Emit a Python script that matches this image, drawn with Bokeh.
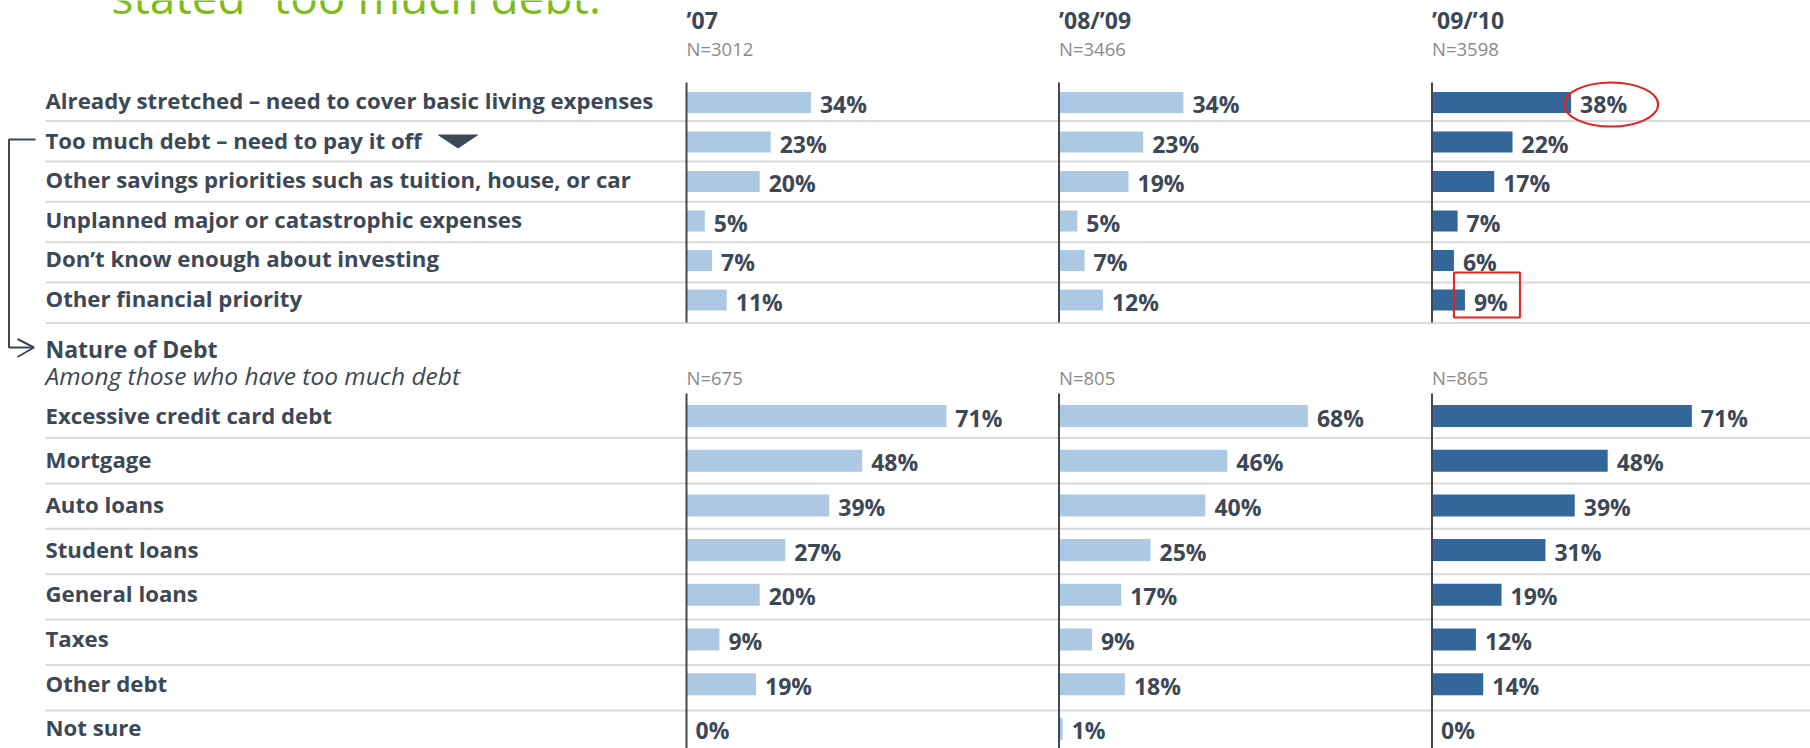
import numpy as np
from bokeh.plotting import figure
from bokeh.models import Range1d
from bokeh.core.properties import value
from bokeh.embed import file_html
from bokeh.resources import INLINE

# ---------------- data ----------------
title_text = "stated “too much debt.”"
periods = ["’07", "’08/’09", "’09/’10"]
n_top = ["N=3012", "N=3466", "N=3598"]
n_bottom = ["N=675", "N=805", "N=865"]

reasons = [
    "Already stretched – need to cover basic living expenses",
    "Too much debt – need to pay it off",
    "Other savings priorities such as tuition, house, or car",
    "Unplanned major or catastrophic expenses",
    "Don’t know enough about investing",
    "Other financial priority",
]
reasons_07 = [34, 23, 20, 5, 7, 11]
reasons_0809 = [34, 23, 19, 5, 7, 12]
reasons_0910 = [38, 22, 17, 7, 6, 9]

section_title = "Nature of Debt"
section_sub = "Among those who have too much debt"
debt_types = [
    "Excessive credit card debt",
    "Mortgage",
    "Auto loans",
    "Student loans",
    "General loans",
    "Taxes",
    "Other debt",
    "Not sure",
]
debt_07 = [71, 48, 39, 27, 20, 9, 19, 0]
debt_0809 = [68, 46, 40, 25, 17, 9, 18, 1]
debt_0910 = [71, 48, 39, 31, 19, 12, 14, 0]

# ---------------- layout / style ----------------
W, H = 1810, 748
FONT = value("Open Sans")
DARK = "#3d4857"
LIGHT_BAR = "#adc8e3"
DARK_BAR = "#346799"
SEP = "#dadada"
GRAY = "#8a8a8a"
RED = "#e8201e"

col_x = np.array([686.0, 1058.5, 1431.5])
k = 3.66                      # pixels per percentage point
label_x = 45
top_y0, top_pitch = 102.0, 39.5
top_sep0, top_sep_pitch = 120.5, 40.4
bot_y0, bot_pitch = 415.5, 44.7
bot_sep0, bot_sep_pitch = 437.5, 45.4

top_vals = [reasons_07, reasons_0809, reasons_0910]
bot_vals = [debt_07, debt_0809, debt_0910]
bar_colors = [LIGHT_BAR, LIGHT_BAR, DARK_BAR]

top_y = top_y0 + top_pitch * np.arange(len(reasons))
bot_y = bot_y0 + bot_pitch * np.arange(len(debt_types))
top_sep = top_sep0 + top_sep_pitch * np.arange(len(reasons))
bot_sep = bot_sep0 + bot_sep_pitch * np.arange(len(debt_types) - 1)

p = figure(width=W, height=H, x_range=Range1d(0, W), y_range=Range1d(H, 0),
           output_backend="svg", toolbar_location=None, min_border=0,
           x_axis_type=None, y_axis_type=None)
p.grid.visible = False
p.outline_line_color = None
p.background_fill_color = "white"
p.border_fill_color = "white"

# title (cut off at the top, as in the slide)
p.text(x=[111], y=[-4.5], text=[title_text], text_font=FONT, text_font_size="46px",
       text_color="#7cbd14", text_baseline="middle", text_align="left")

# separators
seps = np.concatenate([top_sep, bot_sep])
p.segment(x0=label_x, x1=W, y0=seps, y1=seps, line_color=SEP, line_width=2)

# column headers
p.text(x=col_x, y=[19] * 3, text=periods, text_font=FONT, text_font_size="23px",
       text_font_style="bold", text_color=DARK, text_baseline="middle")
p.text(x=col_x, y=[48] * 3, text=n_top, text_font=FONT, text_font_size="18.5px",
       text_color=GRAY, text_baseline="middle")
p.text(x=col_x, y=[377] * 3, text=n_bottom, text_font=FONT, text_font_size="18.5px",
       text_color=GRAY, text_baseline="middle")

# row labels
p.text(x=[label_x] * len(reasons), y=top_y - 2, text=reasons, text_font=FONT,
       text_font_size="22.2px", text_font_style="bold", text_color=DARK, text_baseline="middle")
p.text(x=[label_x] * len(debt_types), y=bot_y - 1, text=debt_types, text_font=FONT,
       text_font_size="22.2px", text_font_style="bold", text_color=DARK, text_baseline="middle")
sec_y = 348.0
p.text(x=[label_x], y=[sec_y], text=[section_title], text_font=FONT, text_font_size="23px",
       text_font_style="bold", text_color=DARK, text_baseline="middle")
p.text(x=[label_x], y=[sec_y + 27], text=[section_sub], text_font=FONT, text_font_size="24.5px",
       text_font_style="italic", text_color=DARK, text_baseline="middle")

# bars + value labels
for j in range(3):
    for ys, vals, h in ((top_y, top_vals[j], 21), (bot_y, bot_vals[j], 22)):
        v = np.array(vals, dtype=float)
        right = col_x[j] + v * k
        p.hbar(y=ys, left=col_x[j], right=right, height=h,
               fill_color=bar_colors[j], line_color=None)
        p.text(x=right + 9, y=ys + 1.5, text=[f"{int(x)}%" for x in vals], text_font=FONT,
               text_font_size="23px", text_font_style="bold", text_color=DARK,
               text_baseline="middle")

# vertical axis lines
p.segment(x0=col_x, x1=col_x, y0=[82] * 3, y1=[322] * 3, line_color=DARK, line_width=2)
p.segment(x0=col_x, x1=col_x, y0=[393] * 3, y1=[H] * 3, line_color=DARK, line_width=2)

# bracket connecting "Too much debt" to "Nature of Debt"
by0 = top_y[1] - 2.5
p.line(x=[35, 8.5, 8.5, 33], y=[by0, by0, sec_y - 1, sec_y - 1], line_color=DARK, line_width=2)
p.line(x=[17, 33.5, 17], y=[sec_y - 9.5, sec_y - 1, sec_y + 8.5], line_color=DARK, line_width=2)

# down triangle after "Too much debt"
p.patch(x=[438, 477, 457.5], y=[top_y[1] - 7, top_y[1] - 7, top_y[1] + 6],
        fill_color=DARK, line_color=DARK)

# red highlight marks
e_x = col_x[2] + reasons_0910[0] * k + 40
p.ellipse(x=[e_x], y=[top_y[0] + 2], width=94, height=44, fill_color=None,
          line_color=RED, line_width=2)
r_left = col_x[2] + reasons_0910[5] * k - 11
p.rect(x=[r_left + 33], y=[top_y[5] - 5], width=66, height=45, fill_color=None,
       line_color=RED, line_width=2)

open("out.html", "w").write(file_html(p, INLINE))
